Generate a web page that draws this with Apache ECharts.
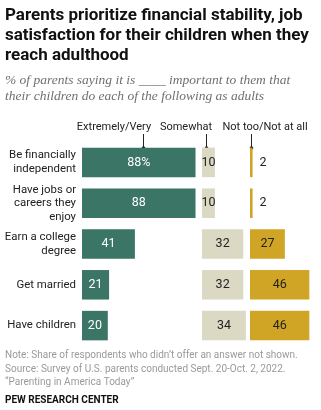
<!DOCTYPE html>
<html>
<head>
<meta charset="utf-8">
<script src="https://cdn.jsdelivr.net/npm/echarts@6/dist/echarts.min.js"></script>
<style>
  html, body { margin: 0; padding: 0; background: #fff; }
  #chart { width: 321px; height: 410px; }
</style>
</head>
<body>
<div id="chart"></div>
<script>
// Survey answers by goal
const categories = [
  'Be financially\nindependent',
  'Have jobs or\ncareers they\nenjoy',
  'Earn a college\ndegree',
  'Get married',
  'Have children'
];
const veryValues = [88, 88, 41, 21, 20];
const somewhatValues = [10, 10, 32, 32, 34];
const notTooValues = [2, 2, 27, 46, 46];
const columnHeaders = ['Extremely/Very', 'Somewhat', 'Not too/Not at all'];

const SANS = 'Roboto, "Liberation Sans", Arial, sans-serif';
const SERIF = '"Liberation Serif", "DejaVu Serif", serif';
const GREEN = '#3b7565';
const BEIGE = '#dbd8c3';
const GOLD = '#d0a424';

const chart = echarts.init(document.getElementById('chart'), null, { renderer: 'canvas' });

const gridTop = 142;
const gridHeight = 204;
const grids = [
  { left: 82, top: gridTop, width: 129, height: gridHeight },
  { left: 202, top: gridTop, width: 64.5, height: gridHeight },
  { left: 250, top: gridTop, width: 64.5, height: gridHeight }
];
const maxes = [100, 50, 50];

function valueAxis(i) {
  return { type: 'value', gridIndex: i, min: 0, max: maxes[i], show: false };
}
function catAxis(i) {
  return {
    type: 'category', gridIndex: i, data: categories, inverse: true,
    axisLine: { show: false }, axisTick: { show: false },
    axisLabel: i === 0 ? {
      show: true, margin: 6, fontSize: 11.4, lineHeight: 13.5,
      color: '#222', fontFamily: SANS, align: 'right'
    } : { show: false }
  };
}

function labelStyle(color) {
  return { show: true, position: 'inside', color: color, fontSize: 12.5, fontFamily: SANS };
}

function header(text, x) {
  return {
    type: 'text', x: x, y: 127,
    style: {
      text: text, font: '11px ' + SANS, fill: '#222',
      align: 'center', verticalAlign: 'middle',
      textAlign: 'center', textVerticalAlign: 'middle'
    }
  };
}
function leader(x) {
  return [
    { type: 'line', shape: { x1: x, y1: 134, x2: x, y2: 148 }, style: { stroke: '#222', lineWidth: 1 } },
    { type: 'circle', shape: { cx: x, cy: 148, r: 1.8 }, style: { fill: '#222' } }
  ];
}

const option = {
  animation: false,
  grid: grids,
  xAxis: [0, 1, 2].map(valueAxis),
  yAxis: [0, 1, 2].map(catAxis),
  series: [
    {
      type: 'bar', xAxisIndex: 0, yAxisIndex: 0, barWidth: 29.5,
      data: veryValues, itemStyle: { color: GREEN },
      label: Object.assign(labelStyle('#fff'), {
        formatter: p => p.dataIndex === 0 ? p.value + '%' : String(p.value)
      })
    },
    {
      type: 'bar', xAxisIndex: 1, yAxisIndex: 1, barWidth: 29.5,
      data: somewhatValues, itemStyle: { color: BEIGE },
      label: labelStyle('#222')
    },
    {
      type: 'bar', xAxisIndex: 2, yAxisIndex: 2, barWidth: 29.5,
      data: notTooValues.map(v => v < 5
        ? { value: v, label: { position: 'right', distance: 7 } }
        : v),
      itemStyle: { color: GOLD },
      label: labelStyle('#222')
    }
  ],
  graphic: [
    {
      type: 'text', left: 5, top: 6,
      style: {
        text: 'Parents prioritize financial stability, job\nsatisfaction for their children when they\nreach adulthood',
        font: 'bold 17px ' + SANS, fill: '#111', lineHeight: 20
      }
    },
    {
      type: 'text', left: 5, top: 72,
      style: {
        text: '% of parents saying it is ____ important to them that\ntheir children do each of the following as adults',
        font: 'italic 13.5px ' + SERIF, fill: '#6f6f6f', lineHeight: 16
      }
    },
    header(columnHeaders[0], 114),
    header(columnHeaders[1], 186),
    header(columnHeaders[2], 265),
    ...leader(143.5),
    ...leader(206.5),
    ...leader(251.5),
    {
      type: 'text', left: 5, top: 349,
      style: {
        text: 'Note: Share of respondents who didn\u2019t offer an answer not shown.\nSource: Survey of U.S. parents conducted Sept. 20-Oct. 2, 2022.\n\u201cParenting in America Today\u201d',
        font: '10px ' + SANS, fill: '#9a9a9a', lineHeight: 13.5
      }
    },
    {
      type: 'text', left: 5, top: 395,
      style: { text: 'PEW RESEARCH CENTER', font: 'bold 10px ' + SANS, fill: '#111' }
    }
  ]
};

chart.setOption(option);
</script>
</body>
</html>
